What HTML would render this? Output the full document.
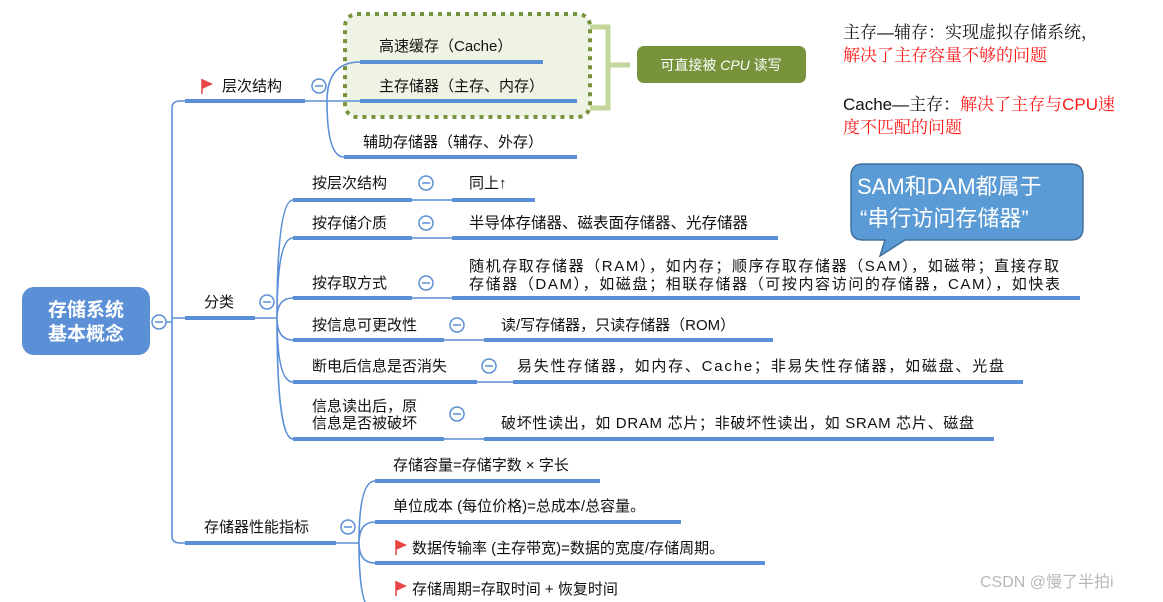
<!DOCTYPE html>
<html><head><meta charset="utf-8"><style>
html,body{margin:0;padding:0;background:#fff;}
svg{display:block;}
text{font-family:"Liberation Sans","Noto Sans CJK SC",sans-serif;font-size:15px;fill:#111;}
.s{font-family:"Liberation Sans","Noto Serif CJK SC",serif;font-size:17px;}
</style></head><body>
<svg width="1163" height="602" viewBox="0 0 1163 602" xmlns="http://www.w3.org/2000/svg">
<defs><style>.u{stroke:#5b8fd6;stroke-width:4;fill:none}.c{stroke:#5b8fd6;stroke-width:1.6;fill:none}.k{fill:#fff;stroke:#5b8fd6;stroke-width:1.5}.m{stroke:#5b8fd6;stroke-width:1.5}</style></defs>

<!-- dotted green box -->
<rect x="345" y="14" width="245" height="103" rx="12" fill="#eef3e4" stroke="#77933c" stroke-width="4" stroke-dasharray="4 5"/>
<!-- bracket -->
<path d="M590 27 H608 V108 H590 M608 65 H630" stroke="#c3d69b" stroke-width="5" fill="none"/>
<rect x="637" y="46" width="169" height="37" rx="7" fill="#77933c"/>
<text x="721" y="70" text-anchor="middle" style="fill:#fff;font-size:14px">可直接被 <tspan font-style="italic">CPU</tspan> 读写</text>

<!-- root -->
<rect x="22" y="287" width="128" height="68" rx="12" fill="#5b8fd6"/>
<text x="86" y="316" text-anchor="middle" style="fill:#fff;font-size:19px;font-weight:bold">存储系统</text>
<text x="86" y="340" text-anchor="middle" style="fill:#fff;font-size:19px;font-weight:bold">基本概念</text>

<!-- trunk -->
<path class="c" d="M166 322 H172 M172 108 Q172 101 180 101 H185 M172 108 V536 Q172 543 180 543 H185 M172 318 H185"/>
<path class="u" d="M185 101H305 M185 318H255 M185 543H336"/>
<circle class="k" cx="159" cy="322" r="7"/><path class="m" d="M155 322h8"/>

<!-- 层次结构 -->
<path d="M202 79 V94" stroke="#e04040" stroke-width="1.5"/><path d="M202 79 L213 84 L202 89Z" fill="#e84545"/>
<text x="222" y="91">层次结构</text>
<circle class="k" cx="319" cy="86" r="7"/><path class="m" d="M315 86h8"/>
<path class="c" d="M305 101 H360 M327 101 Q327 62 360 62 M327 101 Q327 157 344 157"/>
<path class="u" d="M360 62H543 M360 101H577 M344 157H577"/>
<text x="379" y="51">高速缓存（Cache）</text>
<text x="379" y="91">主存储器（主存、内存）</text>
<text x="363" y="147">辅助存储器（辅存、外存）</text>

<!-- 分类 -->
<text x="204" y="307">分类</text>
<circle class="k" cx="267" cy="302" r="7"/><path class="m" d="M263 302h8"/>
<path class="c" d="M255 318 H277 M277 318 Q277 200 293 200 M277 318 Q277 238 293 238 M277 318 Q277 298 293 298 M277 318 Q277 340 293 340 M277 318 Q277 382 293 382 M277 318 Q277 439 293 439"/>
<path class="u" d="M293 200H412 M293 238H412 M293 298H412 M293 340H444 M293 382H477 M293 439H444"/>
<path class="c" d="M412 200H452 M412 238H452 M412 298H452 M444 340H484 M477 382H513 M444 439H484"/>
<path class="u" d="M452 200H535 M452 238H778 M452 298H1080 M484 340H773 M513 382H1023 M484 439H994"/>
<text x="312" y="188">按层次结构</text>
<text x="312" y="228">按存储介质</text>
<text x="312" y="288">按存取方式</text>
<text x="312" y="330">按信息可更改性</text>
<text x="312" y="371">断电后信息是否消失</text>
<text x="312" y="411">信息读出后，原</text>
<text x="312" y="428">信息是否被破坏</text>
<g>
<circle class="k" cx="426" cy="183" r="7"/><path class="m" d="M422 183h8"/>
<circle class="k" cx="426" cy="223" r="7"/><path class="m" d="M422 223h8"/>
<circle class="k" cx="426" cy="283" r="7"/><path class="m" d="M422 283h8"/>
<circle class="k" cx="457" cy="325" r="7"/><path class="m" d="M453 325h8"/>
<circle class="k" cx="489" cy="366" r="7"/><path class="m" d="M485 366h8"/>
<circle class="k" cx="457" cy="414" r="7"/><path class="m" d="M453 414h8"/>
</g>
<text x="469" y="188">同上↑</text>
<text x="469" y="228" style="font-size:15.5px">半导体存储器、磁表面存储器、光存储器</text>
<text x="469" y="271" textLength="590">随机存取存储器（RAM），如内存；顺序存取存储器（SAM），如磁带；直接存取</text>
<text x="469" y="289" textLength="591">存储器（DAM），如磁盘；相联存储器（可按内容访问的存储器，CAM），如快表</text>
<text x="501" y="330">读/写存储器，只读存储器（ROM）</text>
<text x="517" y="371" textLength="487">易失性存储器，如内存、Cache；非易失性存储器，如磁盘、光盘</text>
<text x="501" y="428" textLength="473">破坏性读出，如 DRAM 芯片；非破坏性读出，如 SRAM 芯片、磁盘</text>

<!-- 性能指标 -->
<text x="204" y="532">存储器性能指标</text>
<circle class="k" cx="348" cy="527" r="7"/><path class="m" d="M344 527h8"/>
<path class="c" d="M336 543 H359 M359 543 Q359 481 375 481 M359 543 Q359 522 375 522 M359 543 Q359 563 375 563 M359 543 Q359 602 370 610"/>
<path class="u" d="M375 481H600 M375 522H681 M375 563H765"/>
<text x="393" y="470">存储容量=存储字数 × 字长</text>
<text x="393" y="511">单位成本 (每位价格)=总成本/总容量。</text>
<path d="M396 540 V555" stroke="#e04040" stroke-width="1.5"/><path d="M396 540 L407 545 L396 550Z" fill="#e84545"/>
<text x="412" y="553">数据传输率 (主存带宽)=数据的宽度/存储周期。</text>
<path d="M396 581 V596" stroke="#e04040" stroke-width="1.5"/><path d="M396 581 L407 586 L396 591Z" fill="#e84545"/>
<text x="412" y="594">存储周期=存取时间 + 恢复时间</text>

<!-- notes -->
<text class="s" x="843" y="38">主存—辅存：实现虚拟存储系统，</text>
<text class="s" x="843" y="61" style="fill:#ff1a1a">解决了主存容量不够的问题</text>
<text class="s" x="843" y="110">Cache—主存：<tspan style="fill:#ff1a1a">解决了主存与CPU速</tspan></text>
<text class="s" x="843" y="133" style="fill:#ff1a1a">度不匹配的问题</text>

<!-- callout -->
<path d="M863 164 H1071 Q1083 164 1083 176 V228 Q1083 240 1071 240 H905 L880 256 L885 240 H863 Q851 240 851 228 V176 Q851 164 863 164Z" fill="#5b9bd5" stroke="#41719c" stroke-width="1.5"/>
<text x="857" y="194" style="fill:#fff;font-size:22px">SAM和DAM都属于</text>
<text x="860" y="226" style="fill:#fff;font-size:22px">“串行访问存储器”</text>

<text x="980" y="587" style="fill:#b8b8b8;font-size:16px">CSDN @慢了半拍i</text>
</svg>
</body></html>
